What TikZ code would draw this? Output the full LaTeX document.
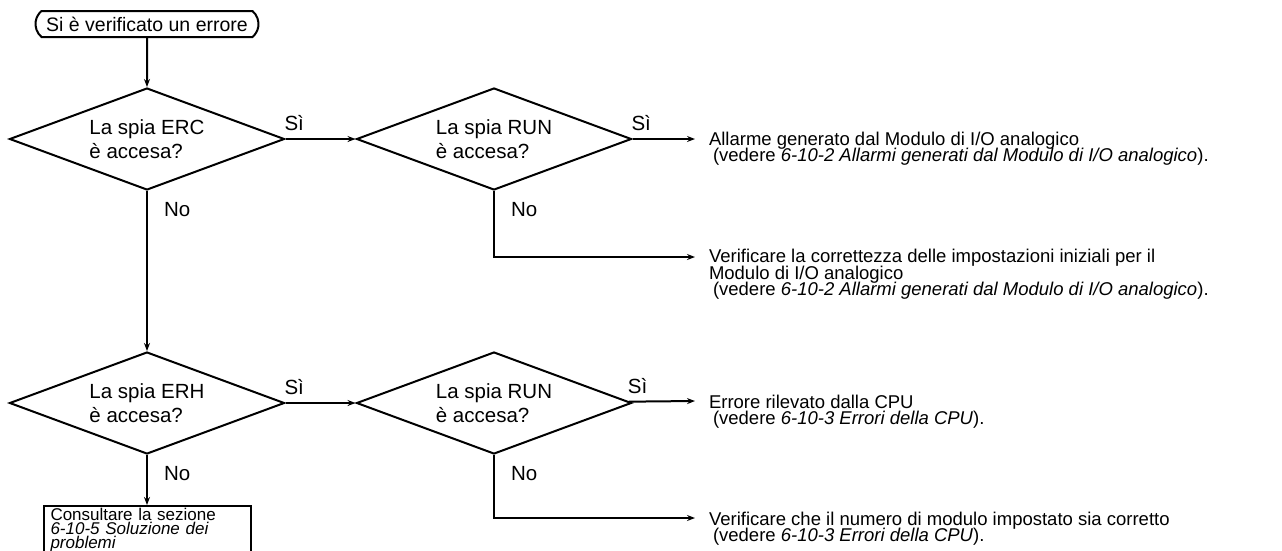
\documentclass[tikz,border=0pt]{standalone}
\usepackage{fontspec}
\setmainfont{Liberation Sans}
\usetikzlibrary{shapes.geometric, shapes.misc, positioning, arrows.meta}
\setlength{\lineskiplimit}{-20pt}

\begin{document}
\begin{tikzpicture}[x=1pt, y=-1pt, ->, >={Stealth[length=8pt,width=6pt]}, line width=2pt, node distance=70pt,
    every node/.style={font=\fontsize{20.5}{20}\selectfont},
    decision/.style={diamond, draw, aspect=2.7, minimum width=275pt, minimum height=102pt, inner sep=0pt, align=left, font=\fontsize{20.5}{24}\selectfont},
    startbox/.style={rounded rectangle, draw, rounded rectangle arc length=100, minimum width=223pt, minimum height=26pt, inner sep=0pt, font=\fontsize{19.5}{20}\selectfont},
    manualbox/.style={draw, text width=193pt, inner xsep=7pt, inner ysep=2pt, text depth=30pt, anchor=north, align=left, font=\fontsize{17}{14}\selectfont},
    note/.style={align=left, inner sep=0pt, anchor=base west, font=\fontsize{18.5}{16.5}\selectfont},
    yes/.style={pos=0, anchor=south west, inner sep=0pt, xshift=-2pt, yshift=7pt},
    no/.style={pos=0, anchor=north west, inner sep=0pt, xshift=16pt, yshift=-10pt}]
    \useasboundingbox (0,0) rectangle (1282,550);

    % start and the four questions
    \node[startbox] (start) at (147,24) {Si è verificato un errore};
    \node[decision] (erc) at (147,139) {La spia ERC\\è accesa?};
    \node[decision, right=of erc] (run1) {La spia RUN\\è accesa?};
    \node[decision, below=160pt of erc] (erh) {La spia ERH\\è accesa?};
    \node[decision, right=of erh] (run2) {La spia RUN\\è accesa?};
    \node[manualbox, below=50pt of erh] (manual) {Consultare la sezione\\\textit{6-10-5 Soluzione dei}\\\textit{problemi}};

    % arrow ends on the right
    \coordinate (e1) at (695,139);
    \coordinate (e2) at (695,257);
    \coordinate (e3) at (695,401);
    \coordinate (e4) at (695,518);

    % what to do next (placed by the baseline of the last line)
    \node[note] (t1) at (708,161.5) {Allarme generato dal Modulo di I/O analogico\\\hspace{4pt}(vedere \textit{6-10-2 Allarmi generati dal Modulo di I/O analogico}).};
    \node[note] (t2) at (708,295.5) {Verificare la correttezza delle impostazioni iniziali per il\\Modulo di I/O analogico\\\hspace{4pt}(vedere \textit{6-10-2 Allarmi generati dal Modulo di I/O analogico}).};
    \node[note] (t3) at (708,424.5) {Errore rilevato dalla CPU\\\hspace{4pt}(vedere \textit{6-10-3 Errori della CPU}).};
    \node[note] (t4) at (708,541.5) {Verificare che il numero di modulo impostato sia corretto\\\hspace{4pt}(vedere \textit{6-10-3 Errori della CPU}).};

    \path (start) edge (erc)
          (erc) edge node[yes] {Sì} (run1)
          (erc) edge node[no] {No} (erh)
          (run1) edge node[yes] {Sì} (e1)
          (erh) edge node[yes] {Sì} (run2)
          (erh) edge node[no] {No} (manual)
          (run2) edge node[yes] {Sì} (e3);
    \draw (run1.south) |- node[no] {No} (e2);
    \draw (run2.south) |- node[no] {No} (e4);
\end{tikzpicture}
\end{document}
